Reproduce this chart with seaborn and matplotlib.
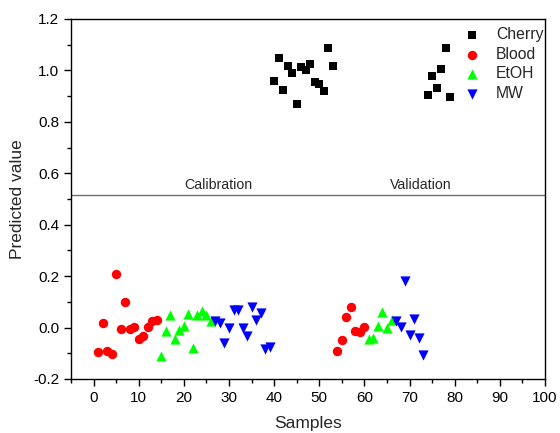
import numpy as np
import pandas as pd
import matplotlib
matplotlib.use("Agg")
import matplotlib.pyplot as plt
import seaborn as sns
from matplotlib.ticker import MultipleLocator, FormatStrFormatter

# ---- data ----
cherry_x = [40, 41, 42, 43, 44, 45, 46, 47, 48, 49, 50, 51, 52, 53,
            74, 75, 76, 77, 78, 79]
cherry_y = [0.958, 1.049, 0.922, 1.017, 0.990, 0.871, 1.013, 1.003, 1.026, 0.955, 0.946, 0.920, 1.088, 1.016,
            0.903, 0.978, 0.933, 1.004, 1.088, 0.897]

blood_x = [1, 2, 3, 4, 5, 6, 7, 8, 9, 10, 11, 12, 13, 14,
           54, 55, 56, 57, 58, 59, 60]
blood_y = [-0.096, 0.018, -0.092, -0.102, 0.209, -0.005, 0.100, -0.004, 0.001, -0.043, -0.031, 0.001, 0.027, 0.031,
           -0.092, -0.050, 0.041, 0.080, -0.014, -0.018, 0.001]

etoh_x = [15, 16, 17, 18, 19, 20, 21, 22, 23, 24, 25, 26,
          61, 62, 63, 64, 65, 66]
etoh_y = [-0.110, -0.014, 0.050, -0.044, -0.008, 0.006, 0.054, -0.080, 0.047, 0.063, 0.048, 0.024,
          -0.044, -0.040, 0.008, 0.061, -0.001, 0.028]

mw_x = [27, 28, 29, 30, 31, 32, 33, 34, 35, 36, 37, 38, 39,
        67, 68, 69, 70, 71, 72, 73]
mw_y = [0.024, 0.016, -0.061, -0.001, 0.070, 0.067, -0.001, -0.031, 0.080, 0.031, 0.057, -0.085, -0.076,
        0.024, 0.003, 0.180, -0.027, 0.034, -0.040, -0.105]

groups = ["Cherry", "Blood", "EtOH", "MW"]
colors = {"Cherry": "#000000", "Blood": "#ff0000", "EtOH": "#00ff00", "MW": "#0000ff"}
markers = {"Cherry": "s", "Blood": "o", "EtOH": "^", "MW": "v"}
sizes = {"Cherry": 32, "Blood": 46, "EtOH": 54, "MW": 54}

split_value = 0.515
region_labels = ["Calibration", "Validation"]
region_label_x = [27.7, 72.5]

df = pd.concat([
    pd.DataFrame({"Samples": cherry_x, "Predicted value": cherry_y, "Class": "Cherry"}),
    pd.DataFrame({"Samples": blood_x, "Predicted value": blood_y, "Class": "Blood"}),
    pd.DataFrame({"Samples": etoh_x, "Predicted value": etoh_y, "Class": "EtOH"}),
    pd.DataFrame({"Samples": mw_x, "Predicted value": mw_y, "Class": "MW"}),
], ignore_index=True)

# ---- style ----
sns.set_style("ticks")
plt.rcParams["font.family"] = ["Liberation Sans", "DejaVu Sans"]

fig = plt.figure(figsize=(5.6, 4.33), dpi=100)
ax = fig.add_axes([71/560, 1 - 379/433, (545 - 71)/560, (379 - 19)/433])

for g in groups:
    sub = df[df["Class"] == g]
    sns.scatterplot(data=sub, x="Samples", y="Predicted value", ax=ax,
                    color=colors[g], marker=markers[g], s=sizes[g],
                    linewidth=0, label=g)

ax.axhline(split_value, color="#707070", lw=1.0, zorder=0)
for lx, lab in zip(region_label_x, region_labels):
    ax.text(lx, 0.555, lab, fontsize=10.2, ha="center", va="center")

ax.set_xlim(-5, 100)
ax.set_ylim(-0.2, 1.2)
ax.xaxis.set_major_locator(MultipleLocator(10))
ax.xaxis.set_minor_locator(MultipleLocator(5))
ax.yaxis.set_major_locator(MultipleLocator(0.2))
ax.yaxis.set_minor_locator(MultipleLocator(0.1))
ax.yaxis.set_major_formatter(FormatStrFormatter("%.1f"))

ax.tick_params(which="major", direction="out", length=5, width=1, labelsize=11, colors="black")
ax.tick_params(which="minor", direction="out", length=3, width=1, colors="black")
for sp in ax.spines.values():
    sp.set_visible(True)
    sp.set_linewidth(1)
    sp.set_color("black")

ax.set_xlabel("Samples", fontsize=12.5, labelpad=8)
ax.set_ylabel("Predicted value", fontsize=12.5, labelpad=6)

leg = ax.legend(loc="upper right", frameon=False, fontsize=11.3,
                handletextpad=0.5, labelspacing=0.3, borderaxespad=0.0,
                bbox_to_anchor=(1.01, 0.995))

fig.savefig("out.png", dpi=100)
